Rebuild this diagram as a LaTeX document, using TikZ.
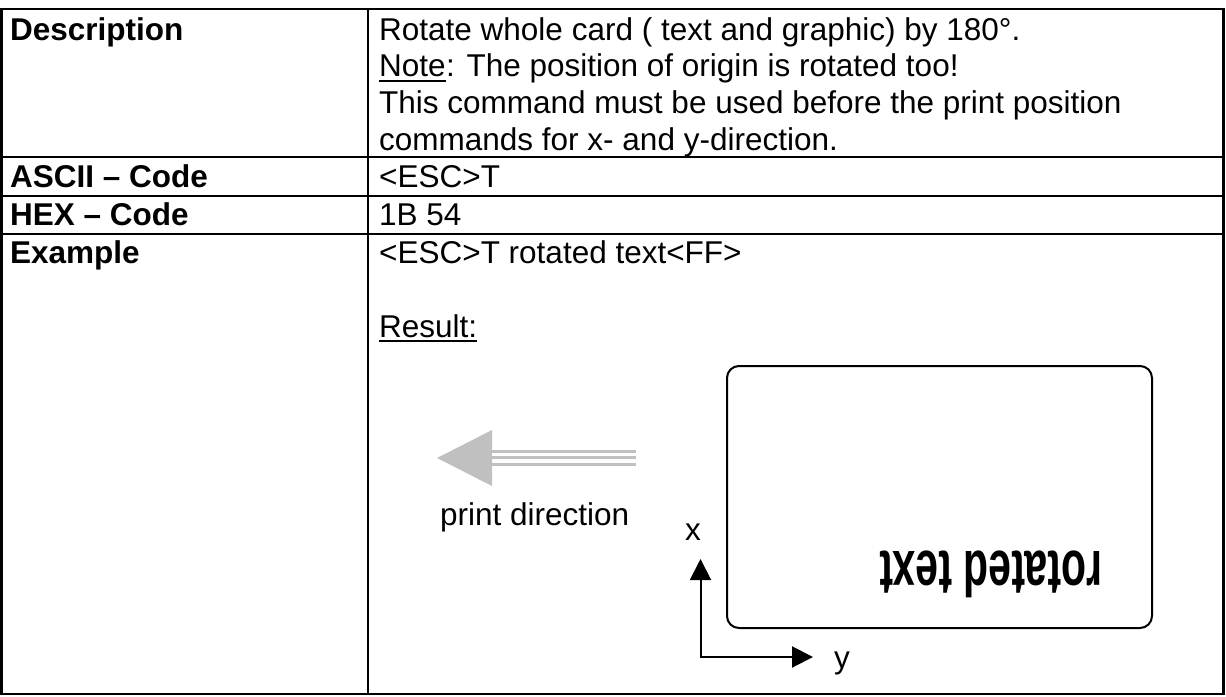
\documentclass[tikz,border=0pt]{standalone}
\usepackage{fontspec}
\setmainfont{Liberation Sans}
\usetikzlibrary{arrows.meta}
\definecolor{arrowgray}{RGB}{192,192,192}
\begin{document}
\begin{tikzpicture}[x=1pt,y=-1pt,
  grid/.style={line width=2.7pt},
  body/.style={font=\fontsize{31.5}{36.7}\selectfont, inner sep=0pt, anchor=base west},
  head/.style={body, font=\fontsize{31.5}{36.7}\selectfont\bfseries},
  uline/.style={line width=2.2pt},
  card/.style={draw, line width=2pt, rounded corners=12pt, inner sep=0pt},
  axis/.style={line width=2pt, {Triangle[length=21pt,width=21pt]}-{Triangle[length=21pt,width=21pt]}},
  rottext/.style={font=\fontsize{64}{64}\selectfont\bfseries, inner sep=0pt, rotate=180, xscale=0.64}
]
\useasboundingbox (0,0) rectangle (1226,696);
\fill[white] (0,0) rectangle (1226,696);

% table
\draw[grid] (1.8,9) rectangle (1223.5,694);
\draw[grid] (1.8,157) -- (1223.5,157);
\draw[grid] (1.8,196) -- (1223.5,196);
\draw[grid] (1.8,234) -- (1223.5,234);
\draw[grid] (368,9) -- (368,694);

% left column labels
\node[head] (lDesc) at (10,40) {Description};
\node[head] (lAscii) at (10,187) {ASCII – Code};
\node[head] (lHex) at (10,225) {HEX – Code};
\node[head] (lEx) at (10,263) {Example};

% right column
\node[body] (d1) at (379,40) {Rotate whole card ( text and graphic) by 180°.};
\node[body] (note) at (379,76.7) {Note};
\node[body] (d2) at (note.base east) {: The position of origin is rotated too!};
\draw[uline] ([yshift=-4pt]note.base west) -- ([yshift=-4pt]note.base east);
\node[body] (d3) at (379,113.3) {This command must be used before the print position};
\node[body] (d4) at (379,150) {commands for x- and y-direction.};
\node[body] (asc) at (379,187) {<ESC>T};
\node[body] (hex) at (379,225) {1B 54};
\node[body] (ex1) at (379,263) {<ESC>T rotated text<FF>};
\node[body] (res) at (379,337) {Result:};
\draw[uline] ([yshift=-4pt]res.base west) -- ([yshift=-4pt]res.base east);

% print direction arrow
\fill[arrowgray] (437,458) -- (492,430) -- (492,486) -- cycle;
\fill[arrowgray] (491,449.5) rectangle (636,452.5);
\fill[arrowgray] (491,456) rectangle (636,459);
\fill[arrowgray] (491,462.5) rectangle (636,465.5);
\node[body] (pd) at (440,525) {print direction};

% card
\node[card, minimum width=425pt, minimum height=262pt] (cardbox) at (939.5,497) {};
\node[rottext] (rot) at (991,574) {rotated text};

% axes
\coordinate (xtip) at (700.5,559);
\coordinate (orig) at (700.5,657);
\coordinate (ytip) at (813,657);
\draw[axis] (xtip) -- (orig) -- (ytip);
\node[body, anchor=base] (xl) at (693,540) {x};
\node[body] (yl) at (834,668) {y};
\end{tikzpicture}
\end{document}
